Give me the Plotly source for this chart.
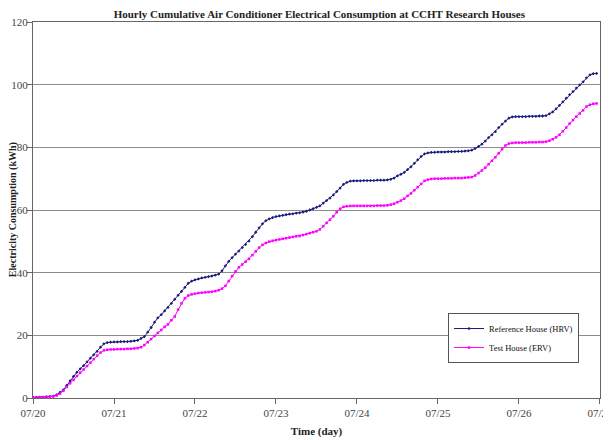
import pandas as pd
import plotly.graph_objects as go

# Hourly cumulative consumption (kWh), one list of 24 hourly values per day
hrv_0720 = [0.2, 0.2, 0.3, 0.3, 0.4, 0.5, 0.6, 1.0, 1.8, 2.6, 4.0, 5.5, 6.9, 8.2, 9.3, 10.3, 11.5, 12.7, 13.8, 14.9, 16.2, 17.3, 17.7, 17.8]
hrv_0721 = [17.9, 17.9, 18.0, 18.0, 18.0, 18.1, 18.2, 18.4, 19.0, 19.6, 21.0, 22.5, 24.2, 25.6, 26.6, 27.8, 28.9, 30.2, 31.5, 32.8, 34.0, 35.3, 36.6, 37.3]
hrv_0722 = [37.7, 38.0, 38.3, 38.5, 38.7, 38.9, 39.2, 39.5, 40.6, 42.2, 43.6, 44.8, 45.9, 46.9, 48.0, 49.0, 50.1, 51.5, 52.9, 54.3, 55.6, 56.6, 57.2, 57.6]
hrv_0723 = [57.9, 58.1, 58.3, 58.5, 58.7, 58.8, 59.0, 59.1, 59.3, 59.6, 60.0, 60.4, 60.8, 61.3, 62.2, 63.0, 63.8, 64.8, 65.9, 67.0, 68.2, 68.8, 69.2, 69.3]
hrv_0724 = [69.3, 69.3, 69.4, 69.4, 69.4, 69.4, 69.5, 69.5, 69.5, 69.6, 69.8, 70.2, 70.9, 71.4, 72.0, 72.9, 73.8, 74.9, 76.0, 77.1, 77.9, 78.2, 78.4, 78.4]
hrv_0725 = [78.5, 78.5, 78.5, 78.6, 78.6, 78.6, 78.7, 78.7, 78.8, 78.9, 79.1, 79.6, 80.3, 81.0, 82.0, 83.1, 84.0, 85.0, 86.3, 87.4, 88.4, 89.3, 89.7, 89.8]
hrv_0726 = [89.8, 89.8, 89.8, 89.9, 89.9, 89.9, 90.0, 90.0, 90.1, 90.7, 91.3, 92.3, 93.4, 94.5, 95.7, 96.8, 97.8, 98.9, 99.9, 100.9, 102.2, 103.1, 103.5, 103.6]

erv_0720 = [0.1, 0.1, 0.2, 0.2, 0.3, 0.4, 0.5, 0.8, 1.4, 2.3, 3.5, 4.7, 5.8, 7.0, 8.1, 9.1, 10.2, 11.3, 12.4, 13.5, 14.5, 15.2, 15.4, 15.5]
erv_0721 = [15.5, 15.6, 15.6, 15.6, 15.7, 15.7, 15.8, 15.9, 16.2, 16.9, 17.8, 18.8, 19.8, 20.8, 21.7, 22.7, 23.5, 24.8, 26.0, 28.2, 30.2, 31.8, 32.7, 33.1]
erv_0722 = [33.3, 33.5, 33.6, 33.7, 33.8, 33.9, 34.1, 34.4, 34.9, 35.8, 37.3, 38.9, 40.4, 41.7, 42.6, 43.5, 44.4, 45.6, 46.8, 48.0, 48.9, 49.5, 49.9, 50.2]
erv_0723 = [50.4, 50.6, 50.8, 51.0, 51.2, 51.4, 51.6, 51.7, 52.0, 52.3, 52.6, 52.9, 53.2, 53.8, 54.8, 55.9, 56.9, 58.0, 59.3, 60.4, 61.0, 61.2, 61.3, 61.3]
erv_0724 = [61.3, 61.3, 61.3, 61.3, 61.3, 61.3, 61.4, 61.4, 61.4, 61.5, 61.7, 62.0, 62.5, 63.0, 63.6, 64.5, 65.3, 66.3, 67.3, 68.3, 69.3, 69.7, 69.9, 70.0]
erv_0725 = [70.0, 70.0, 70.1, 70.1, 70.1, 70.2, 70.2, 70.2, 70.3, 70.4, 70.5, 71.0, 71.8, 72.6, 73.5, 74.6, 75.7, 76.8, 78.1, 79.4, 80.6, 81.2, 81.4, 81.5]
erv_0726 = [81.5, 81.5, 81.5, 81.6, 81.6, 81.6, 81.7, 81.7, 81.8, 82.1, 82.6, 83.2, 84.0, 85.1, 86.3, 87.6, 88.7, 89.8, 90.8, 91.8, 93.0, 93.6, 93.9, 94.0]

hrv = hrv_0720 + hrv_0721 + hrv_0722 + hrv_0723 + hrv_0724 + hrv_0725 + hrv_0726
erv = erv_0720 + erv_0721 + erv_0722 + erv_0723 + erv_0724 + erv_0725 + erv_0726

start_time = "2007-07-20 00:00"
times = pd.date_range(start_time, periods=len(hrv), freq="h")

tick_dates = ["2007-07-20", "2007-07-21", "2007-07-22", "2007-07-23",
              "2007-07-24", "2007-07-25", "2007-07-26", "2007-07-27"]
tick_labels = ["07/20", "07/21", "07/22", "07/23", "07/24", "07/25", "07/26", "07/27"]
y_ticks = [0, 20, 40, 60, 80, 100, 120]

series_names = ["Reference House (HRV)", "Test House (ERV)"]
y_title = "Electricity Consumption (kWh)"

SERIF = "Liberation Serif, Times New Roman, serif"

fig = go.Figure()
fig.add_trace(go.Scatter(
    x=times, y=hrv, name=series_names[0], mode="lines+markers",
    line=dict(color="#1a1a7a", width=1),
    marker=dict(symbol="diamond", size=2.5, color="#1a1a7a"),
))
fig.add_trace(go.Scatter(
    x=times, y=erv, name=series_names[1], mode="lines+markers",
    line=dict(color="#ff00ff", width=1),
    marker=dict(symbol="square", size=2.5, color="#ff00ff"),
))

fig.update_layout(
    width=603, height=432,
    margin=dict(l=25, r=11, t=14, b=42, autoexpand=False),
    paper_bgcolor="white", plot_bgcolor="white",
    font=dict(family=SERIF, size=11, color="#333333"),
    title=dict(
        text="<b>Hourly Cumulative Air Conditioner Electrical Consumption at CCHT Research Houses</b>",
        font=dict(family=SERIF, size=11, color="#222222"),
        x=0.505, xanchor="center", xref="paper",
        y=1.0, yanchor="top", yref="container", pad=dict(t=2),
    ),
    showlegend=True,
    legend=dict(
        x=0.732, y=0.226, xanchor="left", yanchor="top",
        bgcolor="white", bordercolor="#555555", borderwidth=1,
        font=dict(family=SERIF, size=8.5, color="#111111"),
        itemwidth=30, tracegroupgap=0,
    ),
    annotations=[dict(
        text="<b>" + y_title + "</b>", textangle=-90,
        xref="paper", yref="paper", x=-0.035, y=0.5,
        xanchor="center", yanchor="middle", showarrow=False,
        font=dict(family=SERIF, size=10, color="#222222"),
    )],
)

fig.update_xaxes(
    range=["2007-07-20 00:00:00", "2007-07-27 00:00:20"],
    tickmode="array", tickvals=tick_dates, ticktext=tick_labels,
    ticks="outside", ticklen=5, tickcolor="#666666",
    showline=True, linecolor="#666666", linewidth=1, mirror=True,
    showgrid=False, zeroline=False, automargin=False,
    ticklabeloverflow="allow",
    tickfont=dict(family=SERIF, size=11, color="#444444"),
    title=dict(text="<b>Time (day)</b>", font=dict(family=SERIF, size=11, color="#222222"), standoff=9),
)
fig.update_yaxes(
    range=[0, 120],
    tickmode="array", tickvals=y_ticks,
    ticks="outside", ticklen=5, tickcolor="#666666",
    showline=True, linecolor="#666666", linewidth=1, mirror=True,
    showgrid=True, gridcolor="#8c8c8c", gridwidth=1, zeroline=False, automargin=False,
    ticklabelstandoff=-3,
    tickfont=dict(family=SERIF, size=11, color="#444444"),
)

fig.write_html("out.html")
